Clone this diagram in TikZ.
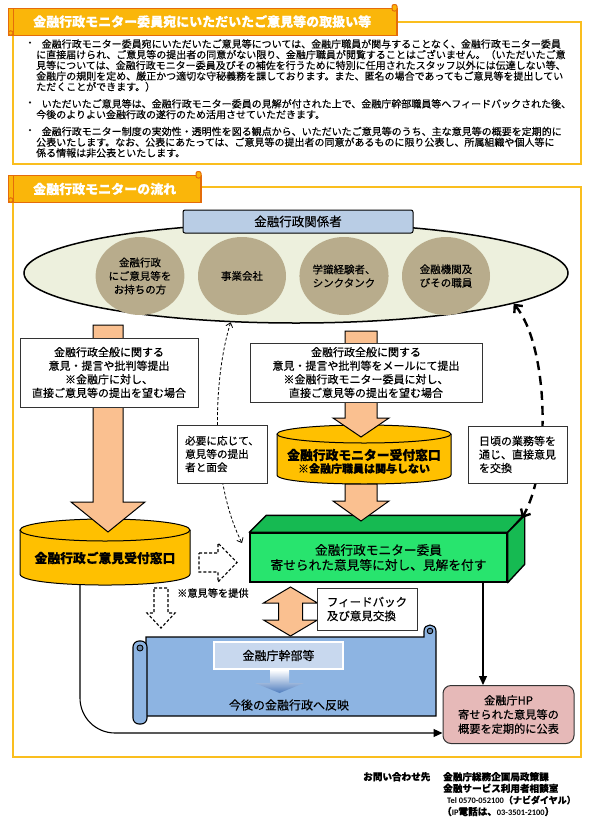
\documentclass[tikz,border=0pt]{standalone}
\usepackage{fontspec}
\setmainfont{Noto Sans CJK JP}[FakeBold=0.4]
\newfontfamily\latfont{Carlito}
\usetikzlibrary{arrows.meta,shapes.geometric}
\definecolor{framegold}{RGB}{250,190,30}
\definecolor{tabgold}{RGB}{250,182,10}
\definecolor{tabedge}{RGB}{228,108,10}
\definecolor{peachc}{RGB}{250,192,144}
\definecolor{cylgold}{RGB}{255,192,0}
\definecolor{ellfill}{RGB}{237,240,221}
\definecolor{circfill}{RGB}{184,172,140}
\definecolor{lightblue}{RGB}{185,205,229}
\definecolor{greenfront}{RGB}{40,228,110}
\definecolor{greenside}{RGB}{22,186,82}
\definecolor{scrollblue}{RGB}{141,180,226}
\definecolor{innerblue}{RGB}{200,216,238}
\definecolor{arrowblue}{RGB}{79,125,190}
\definecolor{hppink}{RGB}{230,185,184}
\newcommand\myfs[2]{\fontsize{#1}{#2}\selectfont}
\begin{document}
\begin{tikzpicture}[x=1pt,y=-1pt,
  txt/.style={inner sep=0pt, align=center},
  tbox/.style={draw=black!80, line width=0.7pt, fill=white, inner sep=0pt, align=center},
  peach/.style={draw=black, line width=1pt, fill=peachc, line join=miter},
  cylline/.style={draw=black, line width=1pt},
  dblock/.style={draw=black, line width=1.1pt, dash pattern=on 3pt off 2pt, line join=miter},
  conn/.style={draw=black, line width=1.1pt, -{Triangle[length=9pt,width=8pt]}},
  tabbox/.style={draw=tabedge, line width=1.3pt, fill=tabgold},
  tabline/.style={draw=tabedge, line width=1pt},
  frame/.style={draw=framegold, line width=2pt},
  circ/.style={ellipse, fill=circfill, minimum width=88pt, minimum height=78pt, inner sep=0pt, align=center, font=\myfs{10.5}{13.5}},
  ]
\useasboundingbox (0,0) rectangle (592,825);
\fill[white] (0,0) rectangle (592,825);

% ---------- section 1 ----------
\draw[frame] (13,22) rectangle (581,164);
\draw[tabbox] (8.5,8.5) rectangle (397,35.5);
\draw[tabline] (13,8.5) -- (13,35.5);
\draw[tabline, fill=tabgold] (10.75,33) circle (2.25);
\draw[tabline, fill=tabgold, rounded corners=2pt] (392,4.5) rectangle (397,11);
\node[txt, anchor=west, text=white, font=\myfs{13}{15}\bfseries] (tab1) at (33,21.5) {金融行政モニター委員宛にいただいたご意見等の取扱い等};

\node[txt, font=\myfs{10}{10.7}] (b1dot) at (30,44) {・};
\node[txt, align=left, anchor=west, font=\myfs{10}{10.7}] (b1) at (36,65.4) {\hspace*{5.5pt}金融行政モニター委員宛にいただいたご意見等については、金融庁職員が関与することなく、金融行政モニター委員\\
に直接届けられ、ご意見等の提出者の同意がない限り、金融庁職員が閲覧することはございません。（いただいたご意\\
見等については、金融行政モニター委員及びその補佐を行うために特別に任用されたスタッフ以外には伝達しない等、\\
金融庁の規則を定め、厳正かつ適切な守秘義務を課しております。また、匿名の場合であってもご意見等を提出してい\\
ただくことができます。）};
\node[txt, font=\myfs{10}{10.7}] (b2dot) at (30,103.8) {・};
\node[txt, align=left, anchor=west, font=\myfs{10}{10.7}] (b2) at (36,109.15) {\hspace*{5.5pt}いただいたご意見等は、金融行政モニター委員の見解が付された上で、金融庁幹部職員等へフィードバックされた後、\\
今後のよりよい金融行政の遂行のため活用させていただきます。};
\node[txt, font=\myfs{10}{10.7}] (b3dot) at (30,131.5) {・};
\node[txt, align=left, anchor=west, font=\myfs{10}{10.7}] (b3) at (36,142.2) {\hspace*{5.5pt}金融行政モニター制度の実効性・透明性を図る観点から、いただいたご意見等のうち、主な意見等の概要を定期的に\\
公表いたします。なお、公表にあたっては、ご意見等の提出者の同意があるものに限り公表し、所属組織や個人等に\\
係る情報は非公表といたします。};

% ---------- section 2 ----------
\draw[frame] (13,187) rectangle (581,757);
\draw[tabbox] (8.5,175.5) rectangle (201,202.5);
\draw[tabline] (13,175.5) -- (13,202.5);
\draw[tabline, fill=tabgold] (10.75,200) circle (2.25);
\draw[tabline, fill=tabgold, rounded corners=2pt] (196,171.5) rectangle (201,178);
\node[txt, anchor=west, text=white, font=\myfs{13}{15}\bfseries] (tab2) at (33,189) {金融行政モニターの流れ};

% stakeholders ellipse
\node[ellipse, draw=black, line width=1.5pt, fill=ellfill, minimum width=544pt, minimum height=100pt, inner sep=0pt] (stake) at (296,273) {};
\node[draw=black, line width=1pt, fill=lightblue, rounded corners=2pt, minimum width=230pt, minimum height=23pt, inner sep=0pt, font=\myfs{12.5}{14}] (kankei) at (298,221.5) {金融行政関係者};
\node[circ] (c1) at (140,276) {金融行政\\にご意見等を\\お持ちの方};
\node[circ] (c2) at (242,276) {事業会社};
\node[circ] (c3) at (344,276) {学識経験者、\\シンクタンク};
\node[circ] (c4) at (446,276) {金融機関及\\びその職員};

% green monitor box (3D)
\node[draw=black, line width=1.4pt, fill=greenfront, minimum width=257pt, minimum height=49pt, inner sep=0pt, align=center, font=\myfs{12.7}{15}] (mon) at (378.5,557.5) {金融行政モニター委員\\寄せられた意見等に対し、見解を付す};
\draw[black, line width=1.4pt, fill=greenside, line join=round] (mon.north west) -- ++(17,-17) -- ++(257,0) -- (mon.north east) -- cycle;
\draw[black, line width=1.4pt, fill=greenside, line join=round] (mon.north east) -- ++(17,-17) -- ++(0,49) -- (mon.south east) -- cycle;

% connectors to HP box
\node[draw=black!80, line width=1pt, fill=hppink, rounded corners=8pt, minimum width=131pt, minimum height=58pt, inner sep=0pt, align=center, font=\myfs{11.2}{14.2}] (hp) at (508.5,714.5) {金融庁HP\\寄せられた意見等の\\概要を定期的に公表};
\coordinate (c1B) at (80,580);
\coordinate (lineY) at (0,733);
\coordinate (monB) at (483,0);
\draw[conn, rounded corners=35pt] (c1B) -- (c1B |- lineY) -- (hp.west |- lineY);
\draw[conn] (monB |- mon.south) -- (monB |- hp.north);

% cylinder 1
\fill[cylgold] (20,530) -- (20,574) .. controls (20,588.7) and (190,588.7) .. (190,574) -- (190,530) -- cycle;
\draw[cylline] (20,530) -- (20,574) .. controls (20,588.7) and (190,588.7) .. (190,574) -- (190,530);
\draw[cylline, fill=cylgold] (105,530) ellipse [x radius=85, y radius=11];
\node[txt, font=\myfs{12.8}{14}\bfseries] (cyl1) at (105,558) {金融行政ご意見受付窓口};

% cylinder 2
\fill[cylgold] (277,434) -- (277,475) .. controls (277,487) and (451,487) .. (451,475) -- (451,434) -- cycle;
\draw[cylline] (277,434) -- (277,475) .. controls (277,487) and (451,487) .. (451,475) -- (451,434);
\draw[cylline, fill=cylgold] (364,434) ellipse [x radius=87, y radius=9];
\node[txt, font=\myfs{12.8}{14}\bfseries] (cyl2) at (364,455) {金融行政モニター受付窓口};
\node[txt, font=\myfs{11}{13}\bfseries] (cyl2b) at (364,468.5) {※金融庁職員は関与しない};

% dashed curved arrows
\coordinate (dlEnd) at (242,543);
\draw[line width=0.8pt, dash pattern=on 3pt off 2pt, {Straight Barb[length=4pt,width=7pt]}-{Straight Barb[length=4pt,width=7pt]}] (stake.217.4) .. controls (213,380) and (210,480) .. (dlEnd);
\coordinate (drEnd) at (522,518);
\draw[line width=2.4pt, dash pattern=on 9pt off 6pt, {Straight Barb[length=6pt,width=11pt]}-{Straight Barb[length=6pt,width=11pt]}] (stake.352.6) .. controls (548,345) and (552,465) .. (drEnd);

% thick peach arrows
\draw[peach] (93,325) -- (123,325) -- (123,502) -- (145,502) -- (108,532) -- (71,502) -- (93,502) -- cycle;
\draw[peach] (345,331) -- (377,331) -- (377,418) -- (389,418) -- (361,437) -- (333,418) -- (345,418) -- cycle;
\draw[peach] (345,484) -- (377,484) -- (377,501) -- (389,501) -- (361,521) -- (333,501) -- (345,501) -- cycle;

% text boxes
\node[tbox, minimum width=178pt, minimum height=69pt, font=\myfs{11}{13.6}] (box1) at (109,372.5) {金融行政全般に関する\\意見・提言や批判等提出\\※金融庁に対し、\\直接ご意見等の提出を望む場合};
\node[tbox, minimum width=232pt, minimum height=59pt, font=\myfs{11}{13.6}] (box2) at (366,372.5) {金融行政全般に関する\\意見・提言や批判等をメールにて提出\\※金融行政モニター委員に対し、\\直接ご意見等の提出を望む場合};
\node[tbox, align=left, minimum width=90pt, minimum height=58pt, font=\myfs{10.6}{13.3}] (meet) at (222,454) {必要に応じて、\\意見等の提出\\者と面会};
\node[tbox, align=left, minimum width=99pt, minimum height=57pt, font=\myfs{11}{13.5}] (daily) at (517.5,454.5) {日頃の業務等を\\通じ、直接意見\\を交換};

% dashed block arrows
\draw[dblock] (199,553) -- (218,553) -- (218,543) -- (237,562.5) -- (218,582) -- (218,572) -- (199,572) -- cycle;
\draw[dblock] (154,588) -- (168,588) -- (168,613) -- (175,613) -- (161,628) -- (147,613) -- (154,613) -- cycle;
\node[txt, anchor=west, font=\myfs{10.2}{12}] (teikyo) at (177,593) {※意見等を提供};

% double arrow and feedback
\draw[peach] (290.5,587) -- (317.5,603) -- (302.5,603) -- (302.5,620) -- (317.5,620) -- (290.5,636) -- (263.5,620) -- (278.5,620) -- (278.5,603) -- (263.5,603) -- cycle;
\node[tbox, align=left, minimum width=100pt, minimum height=42pt, font=\myfs{11.5}{14}] (fb) at (367,609) {フィードバック\\及び意見交換};

% scroll
\draw[line width=1.1pt, fill=scrollblue] (146,637) -- (424,637) -- (424,631) .. controls (424,623) and (436,623) .. (436,631) -- (436,716) -- (146,716) -- cycle;
\draw[line width=0.9pt, fill=scrollblue!75!black] (430,631) circle (2.8);
\draw[line width=1.1pt, fill=scrollblue, rounded corners=6pt] (133,641) rectangle (147,724);
\draw[line width=0.9pt, fill=scrollblue!75!black] (140,648) circle (3);
\node[draw=black!65, double=white, double distance=1.2pt, fill=innerblue, minimum width=129pt, minimum height=27pt, inner sep=0pt, font=\myfs{12}{14}] (exec) at (278.5,655.5) {金融庁幹部等};
\shade[top color=white, bottom color=arrowblue] (270,670) -- (289,670) -- (289,683) -- (304,683) -- (279.5,693) -- (255,683) -- (270,683) -- cycle;
\node[txt, font=\myfs{12}{14}] (reflect) at (289,705) {今後の金融行政へ反映};

% contact
\node[txt, anchor=west, font=\myfs{9.6}{11.6}\bfseries] (ct0) at (363,776.7) {お問い合わせ先};
\node[txt, anchor=west, font=\myfs{9.6}{11.6}\bfseries] (ct1) at (443,776.7) {金融庁総務企画局政策課};
\node[txt, anchor=west, font=\myfs{9.6}{11.6}\bfseries] (ct2) at (443,788.3) {金融サービス利用者相談室};
\node[txt, anchor=west, font=\myfs{9}{11.6}\bfseries] (ct3) at (447,800) {{\latfont\fontsize{8.4}{11}\selectfont Tel 0570-052100}（ナビダイヤル）};
\node[txt, anchor=west, font=\myfs{9.6}{11.6}\bfseries] (ct4) at (442,811.5) {（{\latfont\fontsize{8.4}{11}\selectfont IP}電話は、{\latfont\fontsize{8.4}{11}\selectfont 03-3501-2100}）};
\end{tikzpicture}
\end{document}
